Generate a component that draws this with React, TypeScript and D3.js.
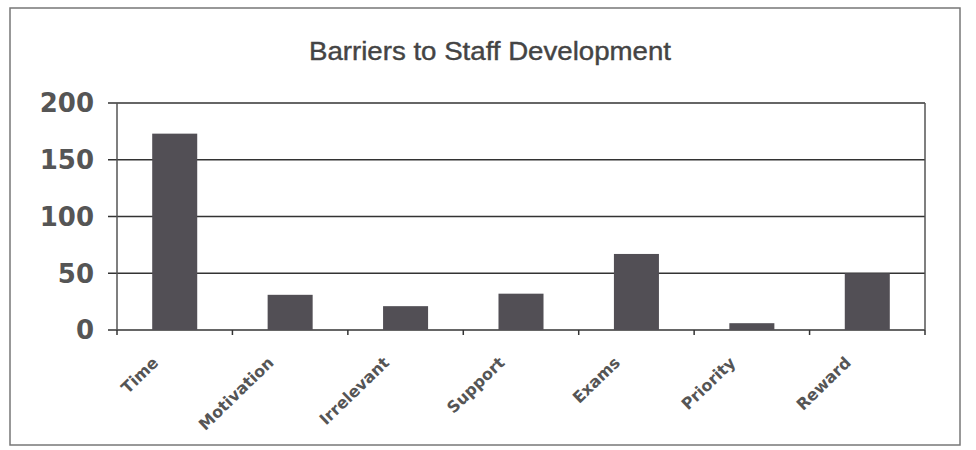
import React from "react";
import * as d3 from "d3";

const categories = ["Time", "Motivation", "Irrelevant", "Support", "Exams", "Priority", "Reward"];
const values = [173, 31, 21, 32, 67, 6, 50];
const yTicks = [0, 50, 100, 150, 200];
const title = "Barriers to Staff Development";

export default function App() {
  const W = 976, H = 450;
  const left = 117, right = 925, top = 103, bottom = 330;
  const x = d3.scaleBand<string>().domain(categories).range([left, right]).paddingInner(0.61).paddingOuter(0.305);
  const y = d3.scaleLinear().domain([0, 200]).range([bottom, top]);
  const step = (right - left) / categories.length;
  const boundaries = d3.range(categories.length + 1).map((i) => left + i * step);
  return (
    <svg width={W} height={H} style={{ position: "absolute", left: 0, top: 0, display: "block", background: "#fff" }}>
      <rect x={10} y={8} width={950} height={437} fill="#fff" stroke="#777" strokeWidth={1.5} />
      <text x={490} y={60} textAnchor="middle" fontFamily="Liberation Sans, Arial, sans-serif" fontSize={25}
        textLength={362} lengthAdjust="spacingAndGlyphs" fill="#444" stroke="#444" strokeWidth={0.4}>
        {title}
      </text>
      {yTicks.map((t) => (
        <g key={t}>
          <line x1={108} x2={right} y1={y(t)} y2={y(t)} stroke="#333" strokeWidth={1.5} />
          <text x={94} y={y(t)} dy="0.36em" textAnchor="end" fontFamily="DejaVu Sans, Verdana, sans-serif" fontWeight="bold" fontSize={26} fill="#555">
            {t}
          </text>
        </g>
      ))}
      <line x1={left} x2={left} y1={top} y2={bottom} stroke="#555" strokeWidth={1.5} />
      <line x1={right} x2={right} y1={top} y2={bottom} stroke="#555" strokeWidth={1.5} />
      {boundaries.map((b, i) => (
        <line key={i} x1={b} x2={b} y1={bottom} y2={bottom + 5} stroke="#333" strokeWidth={1.5} />
      ))}
      {categories.map((c, i) => (
        <rect key={c} x={x(c)} y={y(values[i])} width={x.bandwidth()} height={bottom - y(values[i])} fill="#524f55" />
      ))}
      {categories.map((c) => {
        const cx = (x(c) as number) + x.bandwidth() / 2 - 22;
        const cy = bottom + 27;
        return (
          <text key={c} x={cx} y={cy} transform={`rotate(-44 ${cx} ${cy})`} textAnchor="end" dy="0.6em"
            fontFamily="DejaVu Sans, Verdana, sans-serif" fontWeight="bold" fontSize={16} fill="#555">
            {c}
          </text>
        );
      })}
    </svg>
  );
}
